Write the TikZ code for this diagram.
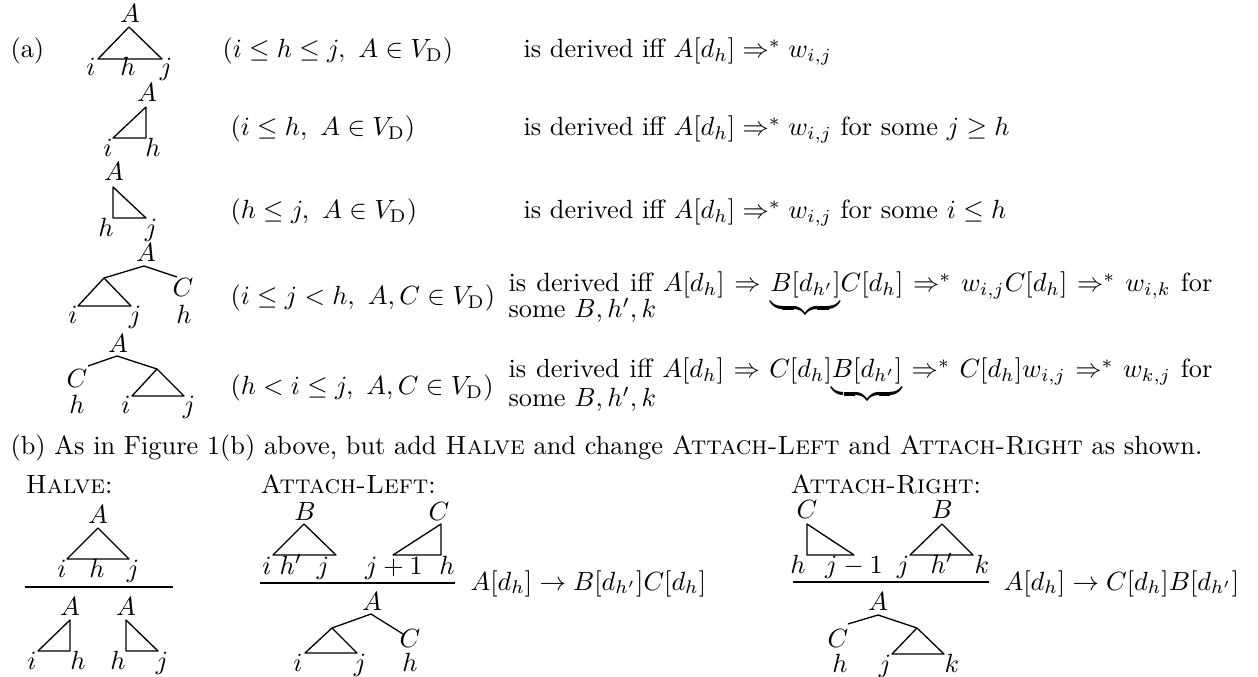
\documentclass[tikz,border=0pt]{standalone}
\usepackage{amsmath}
\begin{document}
\begin{tikzpicture}[x=0.38pt,y=-0.38pt,
  lab/.style={anchor=base,inner sep=0pt},
  txt/.style={anchor=base west,inner sep=0pt},
  tri/.style={line width=0.5pt,line join=round},
  rul/.style={line width=0.45pt}]
\useasboundingbox (0,0) rectangle (1258,677);
% ---------- (a) ----------
\node[txt] (pa) at (10,58) {(a)};
% row 1
\draw[tri] (129,27) -- (98,59) -- (162,59) -- cycle;
\node[lab] (t1A) at (130,23) {$A$};
\node[lab] (t1i) at (91,76) {$i$};
\node[lab] (t1h) at (128,76) {$h$};
\node[lab] (t1j) at (166,76) {$j$};
\node[txt] (c1) at (222,58) {$(i \le h \le j,\ A \in V_{\mathrm{D}})$};
\node[txt] (d1) at (523,58) {is derived iff $A[d_h] \Rightarrow^* w_{i,j}$};
% row 2
\draw[tri] (146,107) -- (113,138) -- (146,138) -- cycle;
\node[lab] (t2A) at (147,102) {$A$};
\node[lab] (t2i) at (108,157) {$i$};
\node[lab] (t2h) at (153,157) {$h$};
\node[txt] (c2) at (230,136) {$(i \le h,\ A \in V_{\mathrm{D}})$};
\node[txt] (d2) at (523,136) {is derived iff $A[d_h] \Rightarrow^* w_{i,j}$ for some $j \ge h$};
% row 3
\draw[tri] (113,187) -- (113,218) -- (146,218) -- cycle;
\node[lab] (t3A) at (114,181) {$A$};
\node[lab] (t3h) at (106,237) {$h$};
\node[lab] (t3j) at (151,237) {$j$};
\node[txt] (c3) at (230,219) {$(h \le j,\ A \in V_{\mathrm{D}})$};
\node[txt] (d3) at (523,219) {is derived iff $A[d_h] \Rightarrow^* w_{i,j}$ for some $i \le h$};
% row 4
\draw[tri] (104,278) -- (144,266) -- (177,277);
\draw[tri] (104,278) -- (78,306) -- (131,306) -- cycle;
\node[lab] (t4A) at (146,262) {$A$};
\node[lab] (t4C) at (183,297) {$C$};
\node[lab] (t4i) at (73,323) {$i$};
\node[lab] (t4j) at (135,323) {$j$};
\node[lab] (t4h) at (184,323) {$h$};
\node[txt] (c4) at (230,305) {$(i \le j < h,\ A,C \in V_{\mathrm{D}})$};
\node[txt] (d4) at (508,292) {\makebox[267.5pt][s]{is derived iff $A[d_h] \Rightarrow {\underbrace{B[d_{h'}]}}C[d_h] \Rightarrow^* w_{i,j}C[d_h] \Rightarrow^* w_{i,k}$ for}};
\node[txt] (e4) at (508,318) {some $B,h',k$};
% row 5
\draw[tri] (88,366) -- (117,356) -- (157,369);
\draw[tri] (157,369) -- (132,396) -- (184,396) -- cycle;
\node[lab] (t5A) at (118,352) {$A$};
\node[lab] (t5C) at (77,388) {$C$};
\node[lab] (t5h) at (77,413) {$h$};
\node[lab] (t5i) at (126,413) {$i$};
\node[lab] (t5j) at (189,413) {$j$};
\node[txt] (c5) at (230,395) {$(h < i \le j,\ A,C \in V_{\mathrm{D}})$};
\node[txt] (d5) at (508,378) {\makebox[267.5pt][s]{is derived iff $A[d_h] \Rightarrow C[d_h]{\underbrace{B[d_{h'}]}} \Rightarrow^* C[d_h]w_{i,j} \Rightarrow^* w_{k,j}$ for}};
\node[txt] (e5) at (508,407) {some $B,h',k$};
% ---------- (b) ----------
\node[txt] (pb) at (10,455) {(b) As in Figure 1(b) above, but add \textsc{Halve} and change \textsc{Attach-Left} and \textsc{Attach-Right} as shown.};
\node[txt] (hv) at (25,493) {\textsc{Halve}:};
\node[txt] (al) at (260,493) {\textsc{Attach-Left}:};
\node[txt] (ar) at (790,493) {\textsc{Attach-Right}:};
% Halve
\draw[tri] (98,528) -- (67,559) -- (129,559) -- cycle;
\node[lab] (hA) at (98,523) {$A$};
\node[lab] (hi) at (62,577) {$i$};
\node[lab] (hh) at (97,577) {$h$};
\node[lab] (hj) at (133,577) {$j$};
\draw[rul] (25,587) -- (173,587);
\draw[tri] (70,620) -- (38,651) -- (70,651) -- cycle;
\draw[tri] (126,620) -- (126,651) -- (158,651) -- cycle;
\node[lab] (hA1) at (70,615) {$A$};
\node[lab] (hA2) at (126,615) {$A$};
\node[lab] (hi1) at (32,669) {$i$};
\node[lab] (hh1) at (78,669) {$h$};
\node[lab] (hh2) at (118,669) {$h$};
\node[lab] (hj2) at (162,669) {$j$};
% Attach-Left
\draw[tri] (304,524) -- (273,555) -- (336,555) -- cycle;
\draw[tri] (441,524) -- (393,555) -- (441,555) -- cycle;
\node[lab] (lB) at (305,520) {$B$};
\node[lab] (lC) at (439,520) {$C$};
\node[lab] (li) at (267,574) {$i$};
\node[lab] (lhp) at (291,574) {$h'$};
\node[lab] (lj) at (323,574) {$j$};
\node[lab] (lj1) at (394,574) {$j+1$};
\node[lab] (lh) at (447,574) {$h$};
\draw[rul] (260,583) -- (455,583);
\node[txt] (lr) at (470,590) {$A[d_h] \rightarrow B[d_{h'}]C[d_h]$};
\draw[tri] (332,628) -- (371,614) -- (403,634);
\draw[tri] (332,628) -- (305,653) -- (357,653) -- cycle;
\node[lab] (lA) at (372,610) {$A$};
\node[lab] (lC2) at (410,647) {$C$};
\node[lab] (li2) at (298,671) {$i$};
\node[lab] (lj2) at (360,671) {$j$};
\node[lab] (lh2) at (410,671) {$h$};
% Attach-Right
\draw[tri] (807,524) -- (807,555) -- (854,555) -- cycle;
\draw[tri] (942,524) -- (910,555) -- (973,555) -- cycle;
\node[lab] (rC) at (807,518) {$C$};
\node[lab] (rB) at (942,518) {$B$};
\node[lab] (rh) at (798,573) {$h$};
\node[lab] (rj1) at (854,573) {$j-1$};
\node[lab] (rj) at (903,573) {$j$};
\node[lab] (rhp) at (942,573) {$h'$};
\node[lab] (rk) at (982,573) {$k$};
\draw[rul] (793,582) -- (989,582);
\node[txt] (rr) at (1003,590) {$A[d_h] \rightarrow C[d_h]B[d_{h'}]$};
\draw[tri] (848,624) -- (878,615) -- (917,628);
\draw[tri] (917,628) -- (892,654) -- (944,654) -- cycle;
\node[lab] (rA) at (878,610) {$A$};
\node[lab] (rC2) at (838,647) {$C$};
\node[lab] (rh2) at (840,672) {$h$};
\node[lab] (rj2) at (885,672) {$j$};
\node[lab] (rk2) at (952,672) {$k$};
\end{tikzpicture}
\end{document}
